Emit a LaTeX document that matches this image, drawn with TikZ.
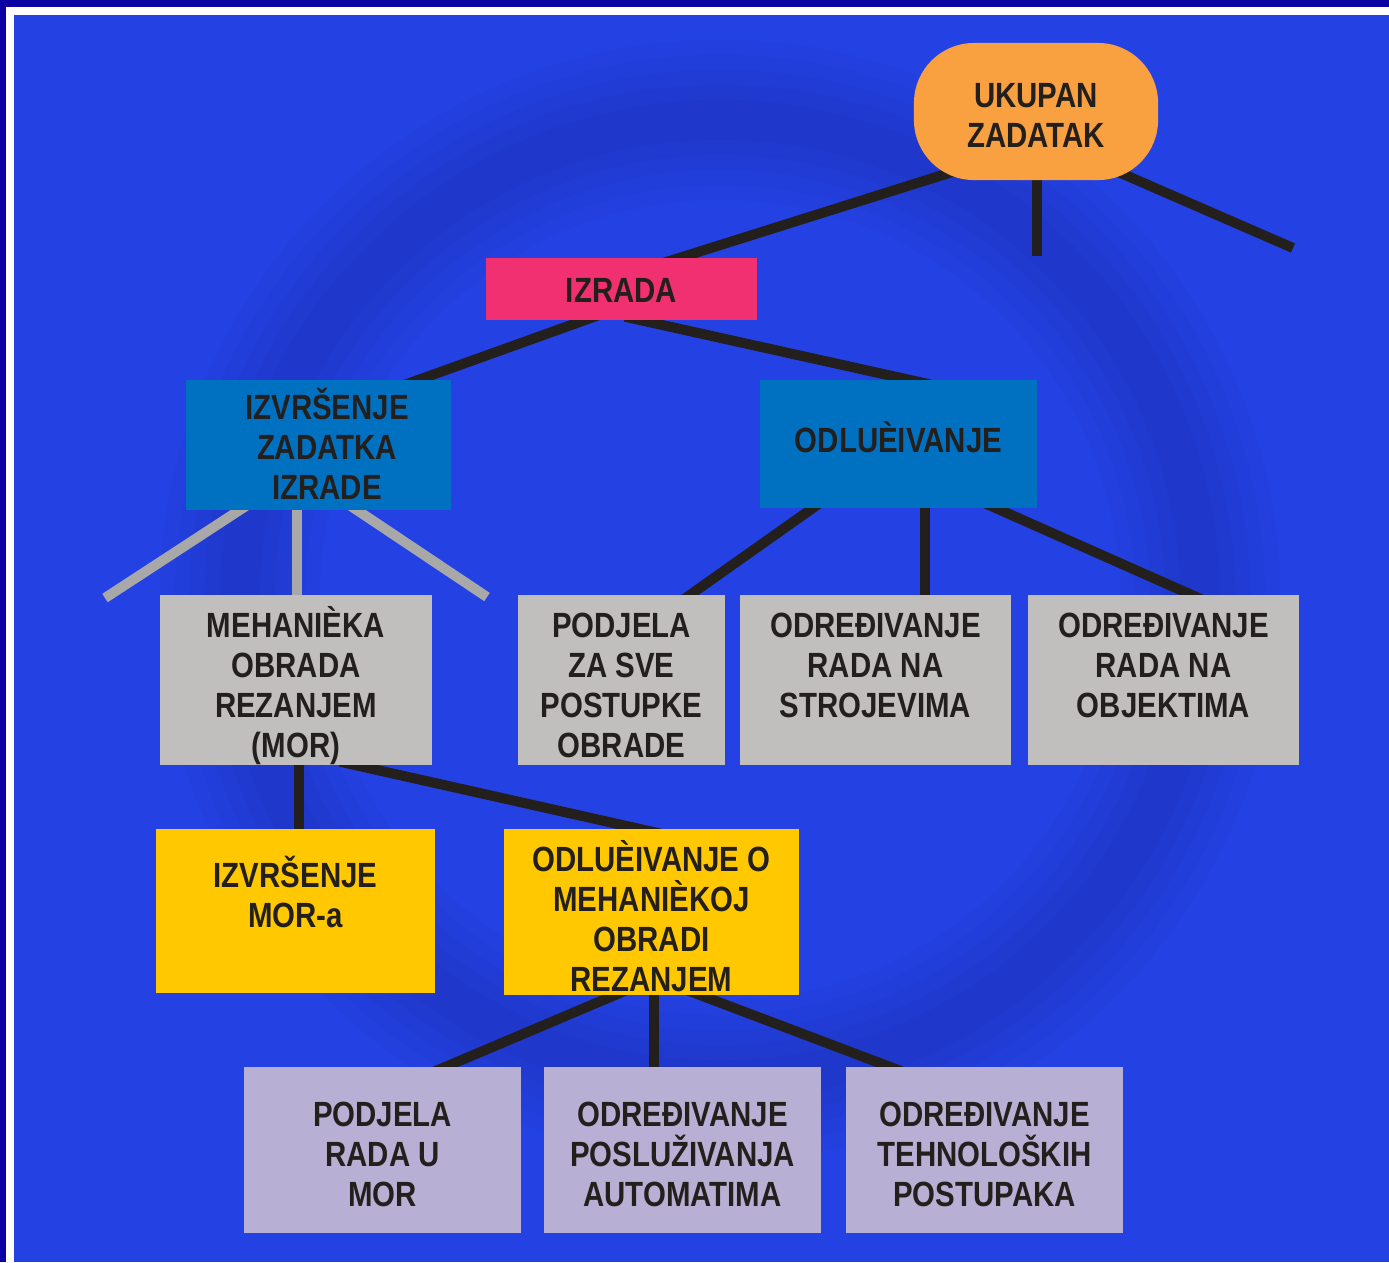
\documentclass[tikz,border=0pt]{standalone}
\usepackage{fontspec}
\setmainfont{Liberation Sans}[FakeStretch=0.84]
\usetikzlibrary{calc}

\definecolor{framenavy}{RGB}{12,0,165}
\definecolor{bgblue}{RGB}{36,66,228}
\definecolor{ink}{RGB}{35,31,28}
\definecolor{wirecol}{RGB}{35,31,28}
\definecolor{greywire}{RGB}{168,168,168}
\definecolor{orangefill}{RGB}{249,160,64}
\definecolor{pinkfill}{RGB}{240,48,112}
\definecolor{midblue}{RGB}{0,112,192}
\definecolor{greyfill}{RGB}{192,191,190}
\definecolor{yellowfill}{RGB}{255,200,0}
\definecolor{lavender}{RGB}{184,176,212}

\pgfdeclarelayer{bg}
\pgfsetlayers{bg,main}

% text block of a box: width, height, first baseline from the top, lines
\newcommand{\boxtext}[4]{\parbox[c][#2][t]{#1}{\centering\rule{0pt}{#3}#4}}

\tikzset{
  tree box/.style={inner sep=0pt, outer sep=0pt, text=ink,
    font=\bfseries\fontsize{0.35cm}{0.4cm}\selectfont},
  wire/.style={draw=wirecol, line width=0.1cm},
  grey wire/.style={draw=greywire, line width=0.1cm},
}

\begin{document}
\begin{tikzpicture}[x=0.01cm, y=-0.01cm]
\useasboundingbox (0,0) rectangle (1389,1262);

\begin{pgfonlayer}{bg}
  % frame and background
  \fill[framenavy] (0,0) rectangle (1389,1262);
  \fill[white] (6,7) rectangle (1389,1262);
  \fill[bgblue] (14,15) rectangle (1389,1262);
  % faint swirl in the backdrop
  \begin{scope}
    \clip (14,15) rectangle (1389,1262);
    \foreach \w in {1.6,1.3,1.0,0.7,0.4}
      \draw[black, opacity=0.018, line width=\w cm] (720,600) circle [radius=4.8cm];
  \end{scope}
\end{pgfonlayer}

% top
\node[tree box, fill=orangefill, rounded corners=0.6cm] (ukupan) at (1036,111.5)
  {\boxtext{2.44cm}{1.37cm}{0.645cm}{UKUPAN\\ZADATAK}};
\node[tree box, fill=pinkfill] (izrada) at (621.5,289)
  {\boxtext{2.71cm}{0.62cm}{0.445cm}{IZRADA}};

% second level
\node[tree box, fill=midblue] (izv) at (318.5,445)
  {\boxtext{2.65cm}{1.30cm}{0.395cm}{\hspace*{0.17cm}IZVRŠENJE\\\hspace*{0.17cm}ZADATKA\\\hspace*{0.17cm}IZRADE}};
\node[tree box, fill=midblue] (odl) at (898.5,444)
  {\boxtext{2.77cm}{1.28cm}{0.725cm}{ODLUÈIVANJE}};

% third level
\node[tree box, fill=greyfill] (meh) at (296,680)
  {\boxtext{2.72cm}{1.70cm}{0.425cm}{MEHANIÈKA\\OBRADA\\REZANJEM\\(MOR)}};
\node[tree box, fill=greyfill] (podj) at (621.5,680)
  {\boxtext{2.07cm}{1.70cm}{0.425cm}{PODJELA\\ZA SVE\\POSTUPKE\\OBRADE}};
\node[tree box, fill=greyfill] (stroj) at (875.5,680)
  {\boxtext{2.71cm}{1.70cm}{0.425cm}{ODREĐIVANJE\\RADA NA\\STROJEVIMA}};
\node[tree box, fill=greyfill] (obj) at (1163.5,680)
  {\boxtext{2.71cm}{1.70cm}{0.425cm}{ODREĐIVANJE\\RADA NA\\OBJEKTIMA}};

% fourth level
\node[tree box, fill=yellowfill] (mora) at (295.5,911)
  {\boxtext{2.79cm}{1.64cm}{0.585cm}{IZVRŠENJE\\MOR-a}};
\node[tree box, fill=yellowfill] (odlo) at (651.5,912)
  {\boxtext{2.95cm}{1.66cm}{0.425cm}{ODLUÈIVANJE O\\MEHANIÈKOJ\\OBRADI\\REZANJEM}};

% bottom level
\node[tree box, fill=lavender] (podjr) at (382.5,1150)
  {\boxtext{2.77cm}{1.66cm}{0.595cm}{PODJELA\\RADA U\\MOR}};
\node[tree box, fill=lavender] (posl) at (682.5,1150)
  {\boxtext{2.77cm}{1.66cm}{0.595cm}{ODREĐIVANJE\\POSLUŽIVANJA\\AUTOMATIMA}};
\node[tree box, fill=lavender] (tehn) at (984.5,1150)
  {\boxtext{2.77cm}{1.66cm}{0.595cm}{ODREĐIVANJE\\TEHNOLOŠKIH\\POSTUPAKA}};

% loose branch ends
\coordinate (endmid) at (1037,256);
\coordinate (endright) at (1293,248);
\coordinate (greyleft) at (105,598);
\coordinate (greyright) at (487,597);

\begin{pgfonlayer}{bg}
  \draw[wire] ($(ukupan.south)+(-46,-20)$) -- ($(izrada.north)+(38.5,6)$);
  \draw[wire] ($(ukupan.south)+(1,-10)$) -- (endmid);
  \draw[wire] ($(ukupan.south)+(64,-16)$) -- (endright);

  \draw[wire] ($(izrada.south)+(-21.5,-5.4)$) -- ($(izv.north)+(81.5,6.5)$);
  \draw[wire] ($(izrada.south)+(3.5,-3.3)$) -- ($(odl.north)+(31.5,4.4)$);

  \draw[wire] ($(odl.south)+(-73.5,-8.7)$) -- ($(podj.north)+(58.5,7)$);
  \draw[wire] ($(odl.south)+(26,-5)$) -- ($(stroj.north)+(49,5)$);
  \draw[wire] ($(odl.south)+(81.5,-7)$) -- ($(obj.north)+(39.5,5)$);

  \draw[grey wire] ($(izv.south)+(-63.5,-10)$) -- (greyleft);
  \draw[grey wire] ($(izv.south)+(-21.5,-5)$) -- ($(meh.north)+(1,5)$);
  \draw[grey wire] ($(izv.south)+(23.5,-10)$) -- (greyright);

  \draw[wire] ($(meh.south)+(3,-5)$) -- ($(mora.north)+(3.5,5)$);
  \draw[wire] ($(meh.south)+(44,-3.4)$) -- ($(odlo.north)+(8.5,4.5)$);

  \draw[wire] ($(odlo.south)+(-21.5,-6.4)$) -- ($(podjr.north)+(47.5,6.4)$);
  \draw[wire] ($(odlo.south)+(2.5,-5)$) -- ($(posl.north)+(-28.5,5)$);
  \draw[wire] ($(odlo.south)+(28.5,-7.6)$) -- ($(tehn.north)+(-79.5,5.6)$);
\end{pgfonlayer}
\end{tikzpicture}
\end{document}
